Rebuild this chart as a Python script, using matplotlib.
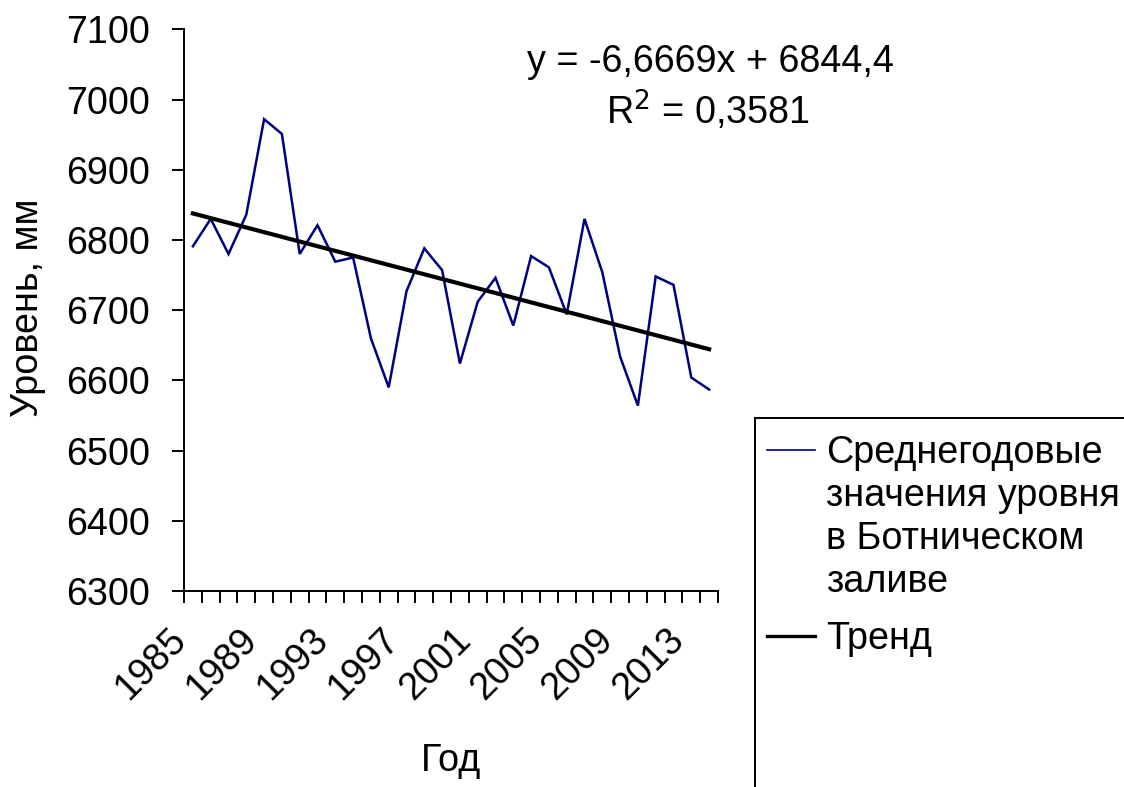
import matplotlib
matplotlib.use("Agg")
import matplotlib.pyplot as plt
from matplotlib.lines import Line2D
from matplotlib.patches import Rectangle
from matplotlib.ticker import FixedLocator, NullFormatter

plt.rcParams['font.family'] = ['Liberation Sans', 'DejaVu Sans']

# Annual mean sea level in the Gulf of Bothnia, mm
years = list(range(1985, 2015))
levels = [6791, 6830, 6780, 6836, 6972, 6951, 6780, 6821, 6769, 6775,
          6660, 6590, 6727, 6788, 6757, 6624, 6712, 6746, 6678, 6777,
          6761, 6694, 6830, 6754, 6634, 6564, 6748, 6736, 6604, 6587]

# Linear trend, x = 1..N
trend_slope = -6.6669
trend_intercept = 6844.4
r_squared = 0.3581

year_labels = [1985, 1989, 1993, 1997, 2001, 2005, 2009, 2013]
y_ticks = [6300, 6400, 6500, 6600, 6700, 6800, 6900, 7000, 7100]

series_label = "Среднегодовые\nзначения уровня\nв Ботническом\nзаливе"
trend_label = "Тренд"


def ru_num(v, nd):
    return f"{v:.{nd}f}".replace(".", ",")


W, H = 1124, 787
FS = 27.2
fig = plt.figure(figsize=(W / 100, H / 100), dpi=100)
ax = fig.add_axes([184 / W, 1 - 591 / H, (718 - 184) / W, (591 - 29.3) / H])

trend_vals = [trend_slope * (i + 1) + trend_intercept for i in range(len(years))]
ax.plot(years, levels, color='#000080', lw=1.8, solid_joinstyle='miter')
ax.plot(years, trend_vals, color='black', lw=3.0)

ax.set_xlim(years[0] - 0.5, years[-1] + 0.5)
ax.set_ylim(y_ticks[0], y_ticks[-1])

for side in ('top', 'right'):
    ax.spines[side].set_visible(False)
for side in ('left', 'bottom'):
    ax.spines[side].set_linewidth(1.4)

ax.set_yticks(y_ticks)
ax.set_yticklabels([str(v) for v in y_ticks])
ax.tick_params(axis='y', direction='out', length=8.6, width=1.4,
               labelsize=FS, pad=15.8)

ax.set_xticks(year_labels)
ax.set_xticklabels([str(v) for v in year_labels])
ax.tick_params(axis='x', which='major', length=0, labelsize=FS, pad=22)
for lab in ax.get_xticklabels():
    lab.set_rotation(45)
    lab.set_ha('right')
    lab.set_va('top')
# category boundary ticks
ax.xaxis.set_minor_locator(FixedLocator([y - 0.5 for y in years] + [years[-1] + 0.5]))
ax.xaxis.set_minor_formatter(NullFormatter())
ax.tick_params(axis='x', which='minor', direction='out', length=8.6, width=1.4)

# axis titles
fig.text(28 / W, 1 - 308 / H, "Уровень, мм", rotation=90, ha='center',
         va='center', fontsize=FS)
fig.text(451 / W, 1 - 771 / H, "Год", ha='center', va='baseline', fontsize=FS)

# trend equation
fig.text(710 / W, 1 - 72 / H,
         f"y = {ru_num(trend_slope, 4)}x + {ru_num(trend_intercept, 1)}",
         ha='center', va='baseline', fontsize=FS)
fig.text(708 / W, 1 - 125 / H, "R$^2$ = " + ru_num(r_squared, 4),
         ha='center', va='baseline', fontsize=FS)

# legend box (runs past the figure edge)
fig.add_artist(Rectangle((755 / W, -0.05), 0.5, (1 - 418 / H) + 0.05,
                         transform=fig.transFigure, fill=False,
                         edgecolor='black', lw=1.4, clip_on=False))
fig.add_artist(Line2D([767 / W, 815 / W], [1 - 450 / H] * 2,
                      transform=fig.transFigure, color='#000080', lw=1.2))
fig.add_artist(Line2D([767 / W, 815 / W], [1 - 636 / H] * 2,
                      transform=fig.transFigure, color='black', lw=2.4))
for i, line in enumerate(series_label.split("\n")):
    fig.text(826 / W, 1 - (463 + 43 * i) / H, line, ha='left',
             va='baseline', fontsize=FS)
fig.text(826 / W, 1 - 649 / H, trend_label, ha='left', va='baseline', fontsize=FS)

fig.savefig("out.png", dpi=100, facecolor='white')
